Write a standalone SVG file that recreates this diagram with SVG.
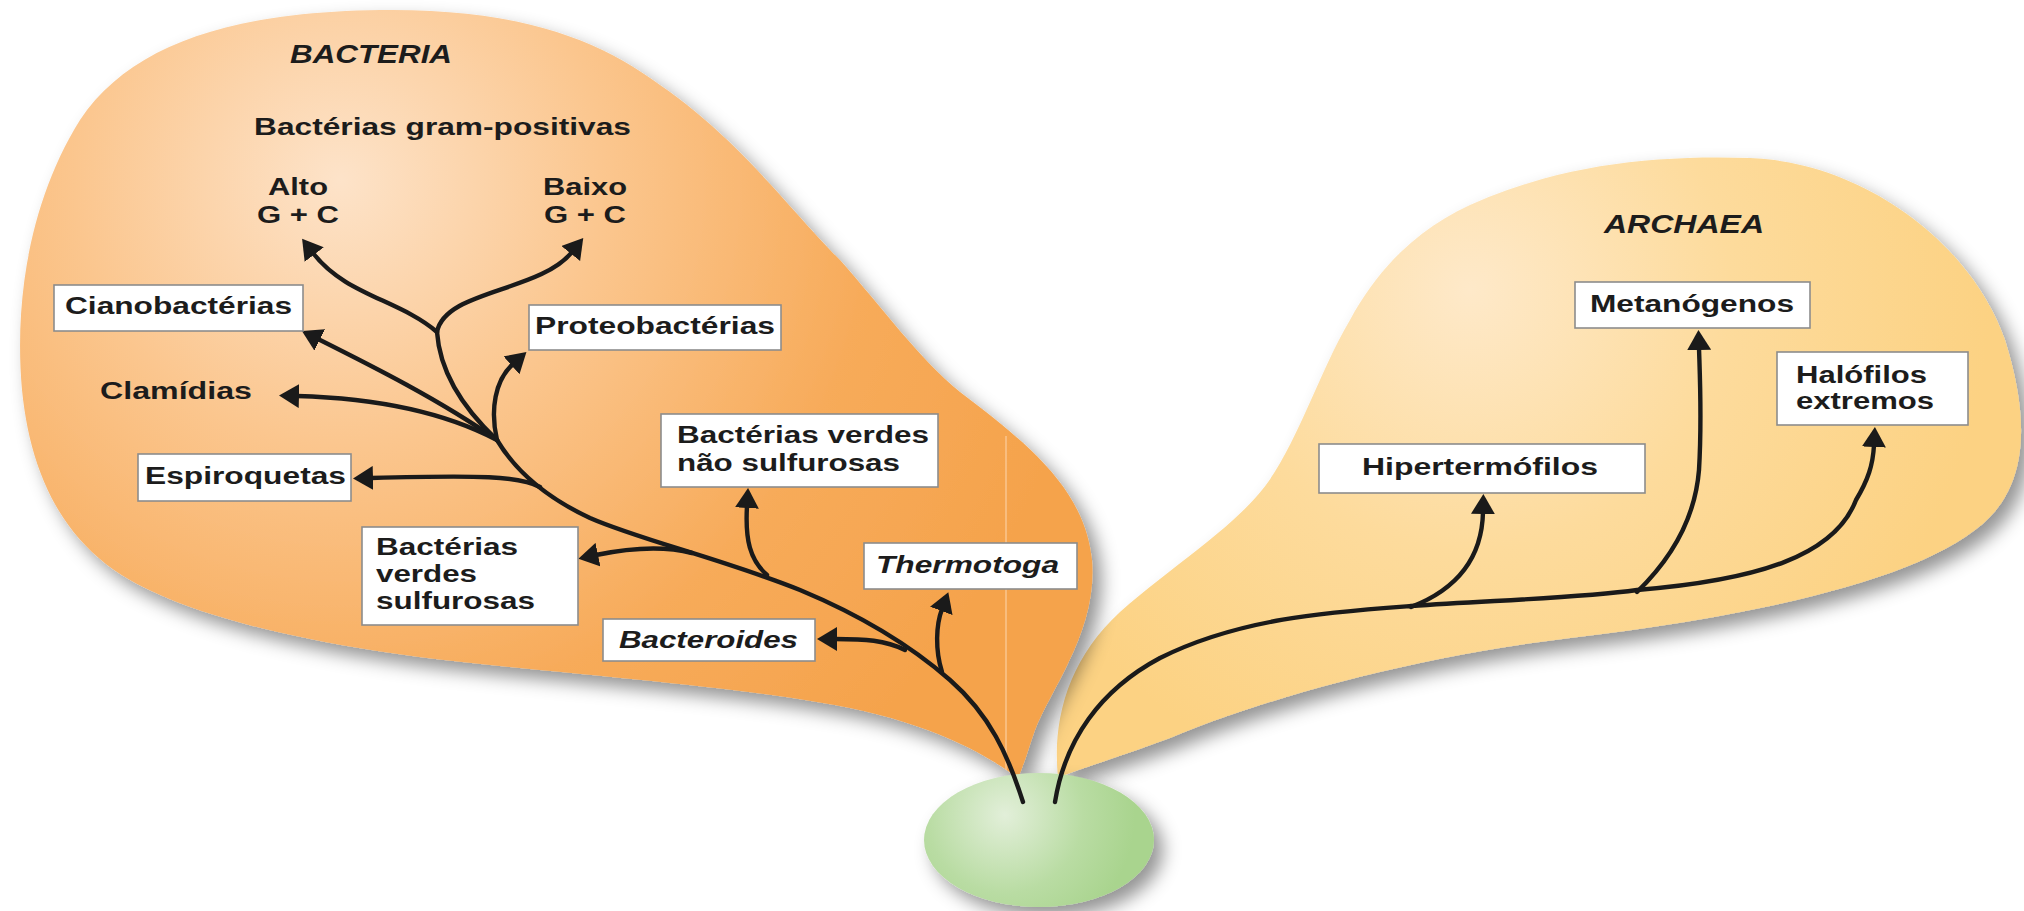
<svg xmlns="http://www.w3.org/2000/svg" width="2024" height="911" viewBox="0 0 2024 911">
<defs>
<radialGradient id="gB" gradientUnits="userSpaceOnUse" cx="340" cy="180" r="760">
<stop offset="0" stop-color="#fde3c9"/>
<stop offset="0.35" stop-color="#fbc68e"/>
<stop offset="0.7" stop-color="#f7ab5a"/>
<stop offset="1" stop-color="#f5a34c"/>
</radialGradient>
<radialGradient id="gA" gradientUnits="userSpaceOnUse" cx="1470" cy="290" r="520">
<stop offset="0" stop-color="#fee9c9"/>
<stop offset="0.5" stop-color="#fddb9c"/>
<stop offset="1" stop-color="#fcd283"/>
</radialGradient>
<radialGradient id="gE" gradientUnits="userSpaceOnUse" cx="1005" cy="815" r="130">
<stop offset="0" stop-color="#e2efd9"/>
<stop offset="0.6" stop-color="#b9dca3"/>
<stop offset="1" stop-color="#a9d48e"/>
</radialGradient>
<filter id="sh" x="-10%" y="-10%" width="125%" height="130%">
<feDropShadow dx="9" dy="10" stdDeviation="9" flood-color="#000" flood-opacity="0.42"/>
</filter>
<marker id="ah" viewBox="0 0 20 24" refX="2" refY="12" markerWidth="20" markerHeight="24" markerUnits="userSpaceOnUse" orient="auto">
<path d="M0,0 L20,12 L0,24 Z" fill="#1a1a1a"/>
</marker>
<style>
.blob{filter:url(#sh)}
.c{fill:none;stroke:#1a1a1a;stroke-width:4.4;stroke-linecap:round}
.a{marker-end:url(#ah)}
.box{fill:#fff;stroke:#8c8c8c;stroke-width:1.6}
.t{font-family:"Liberation Sans",Arial,sans-serif;font-weight:bold;font-size:23px;fill:#1c1c1c}
.i{font-style:italic}
.h{font-size:25px}
</style>
</defs>
<rect width="2024" height="911" fill="#fff"/>
<g id="archaea-region">
<path class="blob" fill="url(#gA)" d="M1058,778 C1052,720 1068,660 1120,612 C1170,568 1230,530 1262,490 C1295,450 1320,370 1350,320 C1380,265 1420,228 1470,205 C1560,165 1650,155 1750,158 C1860,162 1970,240 2005,340 C2030,420 2030,490 1975,530 C1900,588 1720,620 1570,638 C1420,656 1270,696 1170,738 C1105,762 1075,770 1058,778 Z"/>
</g>
<g id="bacteria-region">
<path class="blob" fill="url(#gB)" d="M1018,778 C980,750 930,725 850,708 C760,690 640,680 500,666 C330,650 200,620 130,580 C60,540 30,470 22,390 C14,300 30,200 80,120 C130,45 230,12 380,10 C520,8 600,40 660,85 C740,140 790,210 840,260 C880,305 920,360 960,392 C1030,445 1085,490 1092,560 C1098,630 1050,690 1035,730 C1028,750 1024,765 1018,778 Z"/>
<line x1="1006" y1="436" x2="1006" y2="770" stroke="#fcc893" stroke-width="2" opacity="0.7"/>
</g>
<g id="root">
<ellipse class="blob" cx="1039" cy="840" rx="115" ry="67" fill="url(#gE)"/>
</g>
<g id="connectors">
<path class="c" d="M1023,802 C1008,755 990,715 950,680 C910,645 860,615 800,590 C720,558 640,540 590,518 C545,497 515,470 497,440"/>
<path class="c" d="M497,440 C465,410 440,375 437,332"/>
<path class="c a" d="M437,332 C400,300 345,295 313,253"/>
<path class="c a" d="M437,332 C445,290 540,292 572,252"/>
<path class="c a" d="M497,440 C440,400 370,365 318,339"/>
<path class="c a" d="M497,440 C440,410 370,398 297,396"/>
<path class="c a" d="M497,440 C490,410 495,380 513,364"/>
<path class="c a" d="M540,487 C520,476 480,475 371,478"/>
<path class="c a" d="M692,553 C665,546 630,548 596,555"/>
<path class="c a" d="M767,575 C750,560 745,540 747,506"/>
<path class="c a" d="M905,650 C885,640 865,639 835,639"/>
<path class="c a" d="M942,672 C935,650 936,625 942,609"/>
<path class="c a" d="M1055,802 C1065,740 1100,690 1160,658 C1240,618 1330,612 1411,606 C1500,600 1580,598 1637,590 C1760,580 1835,555 1856,500 C1868,480 1873,465 1874,445"/>
<path class="c a" d="M1411,607 C1455,590 1482,560 1483,512"/>
<path class="c a" d="M1637,592 C1670,560 1695,520 1699,470 C1702,420 1700,380 1699,348"/>
</g>
<g id="label-bacteria"><text class="t i h" x="290" y="63" textLength="162" lengthAdjust="spacingAndGlyphs">BACTERIA</text></g>
<g id="label-gram"><text class="t" x="254" y="135" textLength="377" lengthAdjust="spacingAndGlyphs">Bactérias gram-positivas</text></g>
<g id="node-alto"><text class="t" x="268" y="195" textLength="60" lengthAdjust="spacingAndGlyphs">Alto</text><text class="t" x="257" y="223" textLength="82" lengthAdjust="spacingAndGlyphs">G + C</text></g>
<g id="node-baixo"><text class="t" x="543" y="195" textLength="84" lengthAdjust="spacingAndGlyphs">Baixo</text><text class="t" x="544" y="223" textLength="82" lengthAdjust="spacingAndGlyphs">G + C</text></g>
<g id="node-ciano"><rect class="box" x="54" y="285" width="249" height="46"/><text class="t" x="65" y="314" textLength="227" lengthAdjust="spacingAndGlyphs">Cianobactérias</text></g>
<g id="node-proteo"><rect class="box" x="529" y="305" width="252" height="45"/><text class="t" x="535" y="334" textLength="240" lengthAdjust="spacingAndGlyphs">Proteobactérias</text></g>
<g id="node-clamidias"><text class="t" x="100" y="399" textLength="152" lengthAdjust="spacingAndGlyphs">Clamídias</text></g>
<g id="node-espiro"><rect class="box" x="138" y="454" width="213" height="47"/><text class="t" x="145" y="484" textLength="201" lengthAdjust="spacingAndGlyphs">Espiroquetas</text></g>
<g id="node-verdes-nao"><rect class="box" x="661" y="414" width="277" height="73"/><text class="t" x="677" y="443" textLength="252" lengthAdjust="spacingAndGlyphs">Bactérias verdes</text><text class="t" x="677" y="471" textLength="223" lengthAdjust="spacingAndGlyphs">não sulfurosas</text></g>
<g id="node-verdes-sulf"><rect class="box" x="362" y="527" width="216" height="98"/><text class="t" x="376" y="555" textLength="142" lengthAdjust="spacingAndGlyphs">Bactérias</text><text class="t" x="376" y="582" textLength="101" lengthAdjust="spacingAndGlyphs">verdes</text><text class="t" x="376" y="609" textLength="159" lengthAdjust="spacingAndGlyphs">sulfurosas</text></g>
<g id="node-thermotoga"><rect class="box" x="864" y="543" width="213" height="46"/><text class="t i" x="876" y="573" textLength="183" lengthAdjust="spacingAndGlyphs">Thermotoga</text></g>
<g id="node-bacteroides"><rect class="box" x="603" y="619" width="212" height="42"/><text class="t i" x="619" y="648" textLength="179" lengthAdjust="spacingAndGlyphs">Bacteroides</text></g>
<g id="label-archaea"><text class="t i h" x="1604" y="233" textLength="160" lengthAdjust="spacingAndGlyphs">ARCHAEA</text></g>
<g id="node-metano"><rect class="box" x="1575" y="282" width="235" height="46"/><text class="t" x="1590" y="312" textLength="204" lengthAdjust="spacingAndGlyphs">Metanógenos</text></g>
<g id="node-halofilos"><rect class="box" x="1777" y="352" width="191" height="73"/><text class="t" x="1796" y="383" textLength="131" lengthAdjust="spacingAndGlyphs">Halófilos</text><text class="t" x="1796" y="409" textLength="138" lengthAdjust="spacingAndGlyphs">extremos</text></g>
<g id="node-hiper"><rect class="box" x="1319" y="444" width="326" height="49"/><text class="t" x="1362" y="475" textLength="236" lengthAdjust="spacingAndGlyphs">Hipertermófilos</text></g>
</svg>
